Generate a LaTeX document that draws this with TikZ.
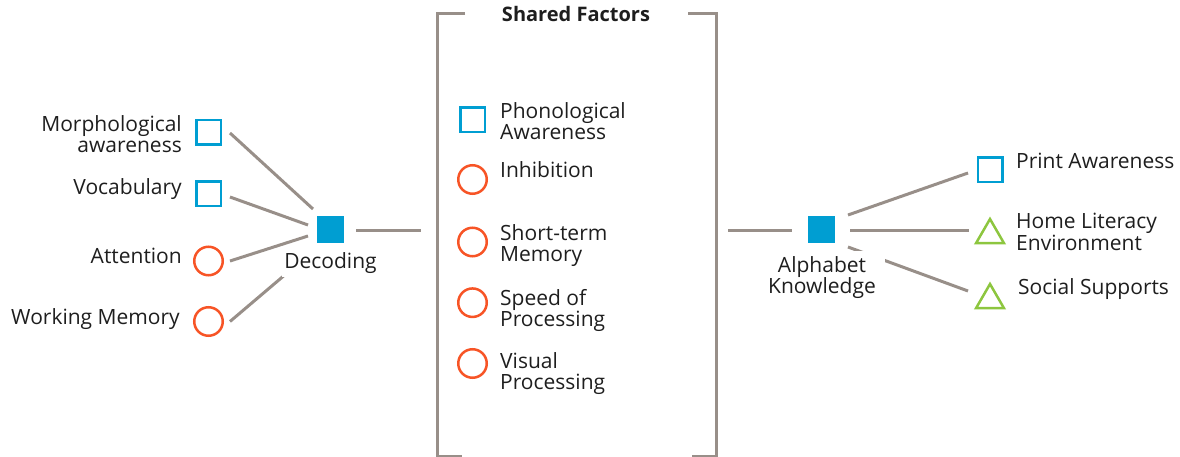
\documentclass[tikz,border=0pt]{standalone}
\usepackage{fontspec}
\setmainfont{Open Sans}
\usetikzlibrary{calc,shapes.geometric}
\definecolor{lgray}{RGB}{152,143,137}
\definecolor{bblue}{RGB}{0,158,210}
\definecolor{oorange}{RGB}{247,84,38}
\definecolor{ggreen}{RGB}{141,198,63}
\definecolor{txt}{RGB}{30,30,30}
\begin{document}
\begin{tikzpicture}[x=1pt,y=-1pt,
  conn/.style={draw=lgray,line width=3pt},
  brk/.style={draw=lgray,line width=3pt},
  osq/.style={rectangle,draw=bblue,line width=2.5pt,minimum size=24.5pt,inner sep=0pt},
  fsq/.style={rectangle,fill=bblue,minimum size=27pt,inner sep=0pt},
  ocirc/.style={circle,draw=oorange,line width=2.5pt,minimum size=28.5pt,inner sep=0pt},
  otri/.style={regular polygon,regular polygon sides=3,draw=ggreen,line width=2.5pt,minimum size=32pt,inner sep=0pt},
  lbl/.style={font=\fontsize{21}{21}\selectfont,inner sep=0pt,text=txt},
  lblL/.style={lbl,align=left,anchor=base west},
  lblR/.style={lbl,align=right,anchor=base east},
  lblC/.style={lbl,align=center,anchor=base}]
\useasboundingbox (0,0) rectangle (1180,457);

% left shapes
\node[osq] (morph) at (208.5,132.5) {};
\node[osq] (voc) at (208.5,194) {};
\node[ocirc] (att) at (208.5,261) {};
\node[ocirc] (wm) at (208.5,321.5) {};
\node[fsq] (dec) at (330.5,229.5) {};

% shared shapes
\node[osq] (phon) at (472.5,119.7) {};
\node[ocirc] (inh) at (472.5,179.5) {};
\node[ocirc] (stm) at (472.5,242) {};
\node[ocirc] (sop) at (472.5,302.7) {};
\node[ocirc] (vis) at (472.5,363.5) {};

% right shapes
\node[fsq] (alph) at (821.5,229.5) {};
\node[osq] (print) at (990,170) {};
\node[otri] (home) at (990,235) {};
\node[otri] (soc) at (990,300) {};

\coordinate (bl) at (421,230);
\coordinate (br) at (728,230);

% connectors
\draw[conn] ($(morph.center)+(21.5,0.5)$) -- ($(dec.center)+(-17.5,-20.5)$);
\draw[conn] ($(voc.center)+(21.5,3)$) -- ($(dec.center)+(-22.5,-4.5)$);
\draw[conn] ($(att.center)+(21.5,0)$) -- ($(dec.center)+(-22.5,6.5)$);
\draw[conn] ($(wm.center)+(21.5,0)$) -- ($(dec.center)+(-17.5,21.5)$);
\draw[conn] ($(dec.center)+(25.5,0.5)$) -- (bl);
\draw[conn] (br) -- ($(alph.center)+(-29.5,0.5)$);
\draw[conn] ($(alph.center)+(26.5,-14.5)$) -- ($(print.center)+(-22,3)$);
\draw[conn] ($(alph.center)+(28.5,0.5)$) -- ($(home.center)+(-21,-5)$);
\draw[conn] ($(alph.center)+(26.5,17.5)$) -- ($(soc.center)+(-22,-9)$);

% bracket
\draw[brk] (465,14) -- (437,14) -- (437,456) -- (462,456);
\draw[brk] (688,14) -- (716,14) -- (716,456) -- (692,456);

% labels
\node[lblR] (tmorph) at (182,153) {Morphological\\awareness};
\node[lblR] (tvoc) at (182,194) {Vocabulary};
\node[lblR] (tatt) at (182,263) {Attention};
\node[lblR] (twm) at (180,324) {Working Memory};
\node[lblC,fill=white,inner xsep=2pt,inner ysep=4pt] (tdec) at (330.5,268) {Decoding};

\node[lbl,font=\fontsize{20}{21}\selectfont\bfseries,anchor=base] (tshared) at (576,22) {Shared Factors};
\node[lblL] (tphon) at (500,140) {Phonological\\Awareness};
\node[lblL] (tinh) at (500,178) {Inhibition};
\node[lblL] (tstm) at (500,261.5) {Short-term\\Memory};
\node[lblL] (tsop) at (500,326) {Speed of\\Processing};
\node[lblL] (tvis) at (500,389) {Visual\\Processing};

\node[lblC,fill=white,inner xsep=9pt,inner ysep=5pt] (talph) at (822,293) {Alphabet\\Knowledge};
\node[lblL] (tprint) at (1016,169) {Print Awareness};
\node[lblL] (thome) at (1016,250) {Home Literacy\\Environment};
\node[lblL] (tsoc) at (1018,294) {Social Supports};
\end{tikzpicture}
\end{document}
